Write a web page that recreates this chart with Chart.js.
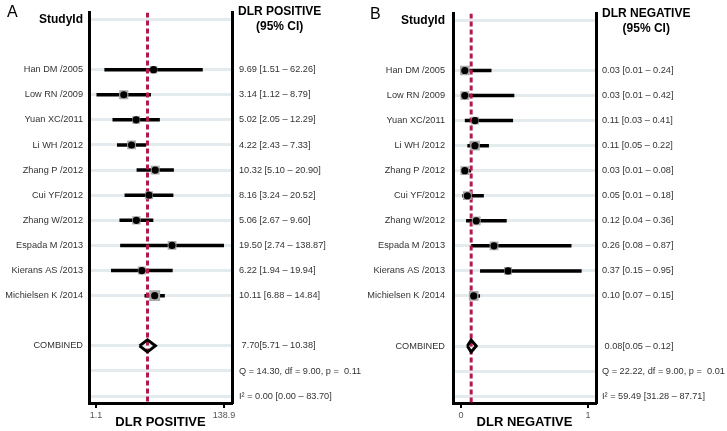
<!DOCTYPE html>
<html lang="en">
<head>
<meta charset="UTF-8">
<title>DLR forest plots</title>
<script src="https://cdn.jsdelivr.net/npm/chart.js"></script>
<style>
    body {
        margin: 0;
        background: #fff;
        width: 727px;
        height: 431px;
        position: relative;
        overflow: hidden;
    }
    canvas { position: absolute; top: 0; }
    #chartA { left: 0; }
    #chartB { left: 360px; }
</style>
</head>
<body>

<canvas id="chartB" width="367" height="431"></canvas>
<canvas id="chartA" width="375" height="431"></canvas>

<script>
    // studies (same order in both panels)
    const studies = ['Han DM /2005', 'Low RN /2009', 'Yuan XC/2011', 'Li WH /2012', 'Zhang P /2012',
        'Cui YF/2012', 'Zhang W/2012', 'Espada M /2013', 'Kierans AS /2013', 'Michielsen K /2014'];

    // DLR positive
    const posEst = [9.69, 3.14, 5.02, 4.22, 10.32, 8.16, 5.06, 19.50, 6.22, 10.11];
    const posLow = [1.51, 1.12, 2.05, 2.43, 5.10, 3.24, 2.67, 2.74, 1.94, 6.88];
    const posHigh = [62.26, 8.79, 12.29, 7.33, 20.90, 20.52, 9.60, 138.87, 19.94, 14.84];
    const posWeight = [6, 10, 7, 9, 9, 7, 8, 9, 7, 14];
    const posCombined = [7.70, 5.71, 10.38];
    const posQ = 'Q = 14.30, df = 9.00, p =  0.11';
    const posI2 = 'I² = 0.00 [0.00 – 83.70]';
    const posTicks = [1.1, 138.9];

    // DLR negative
    const negEst = [0.03, 0.03, 0.11, 0.11, 0.03, 0.05, 0.12, 0.26, 0.37, 0.10];
    const negLow = [0.01, 0.01, 0.03, 0.05, 0.01, 0.01, 0.04, 0.08, 0.15, 0.07];
    const negHigh = [0.24, 0.42, 0.41, 0.22, 0.08, 0.18, 0.36, 0.87, 0.95, 0.15];
    const negWeight = [11, 9, 7, 11, 9, 9, 9, 9, 7, 11];
    const negCombined = [0.08, 0.05, 0.12];
    const negQ = 'Q = 22.22, df = 9.00, p =  0.01';
    const negI2 = 'I² = 59.49 [31.28 – 87.71]';
    const negTicks = [0, 1];

    const FONT = "'Liberation Sans', Arial, sans-serif";
    Chart.defaults.font.family = FONT;

    const ROW_MIN = -0.275, ROW_MAX = 15.275;
    const FIRST_ROW = 2, COMBINED_ROW = 13;

    function fmt(v) { return v.toFixed(2); }

    // letter, right header and "(95% CI)"
    const headers = {
        id: 'headers',
        afterDraw(chart, args, opts) {
            const ctx = chart.ctx;
            const area = chart.chartArea;
            ctx.save();
            ctx.fillStyle = '#000';
            ctx.textBaseline = 'middle';
            ctx.textAlign = 'left';
            ctx.font = '16px ' + FONT;
            ctx.fillText(opts.letter, opts.letterX, opts.y + 1);
            ctx.font = 'bold 12px ' + FONT;
            const x = area.right + 6;
            ctx.fillText(opts.title, x, opts.y);
            const w = ctx.measureText(opts.title).width;
            ctx.textAlign = 'center';
            ctx.fillText('(95% CI)', x + w / 2, opts.y + 15);
            ctx.restore();
        }
    };

    function makePanel(id, p) {
        const rows = studies.map((s, i) => FIRST_ROW + i);
        const leftText = [], rightText = [];
        leftText[0] = 'StudyId';
        studies.forEach((s, i) => {
            leftText[rows[i]] = s;
            rightText[rows[i]] = `${fmt(p.est[i])} [${fmt(p.low[i])} – ${fmt(p.high[i])}]`;
        });
        const c = p.combined;
        leftText[COMBINED_ROW] = 'COMBINED';
        rightText[COMBINED_ROW] = ` ${fmt(c[0])}[${fmt(c[1])} – ${fmt(c[2])}]`;
        rightText[14] = p.q;
        rightText[15] = p.i2;
        const tickRows = [0, ...rows, COMBINED_ROW, 14, 15];

        const datasets = [];
        // black dots
        datasets.push({
            type: 'scatter',
            data: studies.map((s, i) => ({ x: p.est[i], y: rows[i] })),
            pointStyle: 'circle', pointRadius: 3.6, backgroundColor: '#000', borderWidth: 0,
            order: 1
        });
        // gray weight squares
        datasets.push({
            type: 'scatter',
            data: studies.map((s, i) => ({ x: p.est[i], y: rows[i] })),
            pointStyle: 'rect', pointRadius: p.weight.map(w => 3.5 + w * 0.3),
            backgroundColor: '#a9a9a9', borderWidth: 0,
            order: 2
        });
        // combined diamond
        const h = 0.24;
        datasets.push({
            type: 'line',
            data: [
                { x: c[1], y: COMBINED_ROW }, { x: c[0], y: COMBINED_ROW - h },
                { x: c[2], y: COMBINED_ROW }, { x: c[0], y: COMBINED_ROW + h },
                { x: c[1], y: COMBINED_ROW }
            ],
            borderColor: '#000', borderWidth: 3, borderJoinStyle: 'miter',
            pointRadius: 0, fill: false, tension: 0,
            order: 3
        });
        // red dashed line at pooled estimate
        datasets.push({
            type: 'line',
            data: [{ x: c[0], y: ROW_MIN }, { x: c[0], y: ROW_MAX }],
            borderColor: '#b3194b', borderWidth: 3, borderDash: [5, 3],
            pointRadius: 0, fill: false,
            order: 4
        });
        // confidence intervals
        studies.forEach((s, i) => {
            datasets.push({
                type: 'line',
                data: [{ x: p.low[i], y: rows[i] }, { x: p.high[i], y: rows[i] }],
                borderColor: '#000', borderWidth: 3.5, pointRadius: 0, fill: false,
                order: 5
            });
        });

        new Chart(document.getElementById(id), {
            type: 'scatter',
            data: { datasets: datasets },
            plugins: [headers],
            options: {
                responsive: false,
                animation: false,
                events: [],
                layout: { padding: { top: 7, left: 0, right: 0, bottom: 0 } },
                plugins: {
                    legend: { display: false },
                    tooltip: { enabled: false },
                    headers: { letter: p.letter, letterX: p.letterX, title: p.title, y: p.headY }
                },
                scales: {
                    x: {
                        type: p.xType,
                        min: p.xMin,
                        max: p.xMax,
                        afterBuildTicks: s => { s.ticks = p.ticks.map(v => ({ value: v })); },
                        afterFit: s => { s.height = 28; },
                        ticks: {
                            callback: v => String(v),
                            font: { size: 9 },
                            color: '#555',
                            padding: 2,
                            maxRotation: 0
                        },
                        grid: { display: true, drawOnChartArea: false, drawTicks: true, tickLength: 5, color: '#000', lineWidth: 2 },
                        border: { display: true, color: '#000', width: 3 },
                        title: {
                            display: true,
                            text: p.title,
                            font: { size: 13, weight: 'bold' },
                            color: '#000',
                            padding: { top: 0, bottom: 1 }
                        }
                    },
                    y: {
                        type: 'linear',
                        position: 'left',
                        reverse: true,
                        min: ROW_MIN,
                        max: ROW_MAX,
                        afterBuildTicks: s => { s.ticks = tickRows.map(v => ({ value: v })); },
                        afterFit: s => { s.width = p.left; },
                        ticks: {
                            autoSkip: false,
                            padding: p.leftPad,
                            callback: v => leftText[v] || '',
                            font: ctx => ctx.tick && ctx.tick.value === 0 ? { size: 12, weight: 'bold' } : { size: 9.2 },
                            color: ctx => ctx.tick && ctx.tick.value === 0 ? '#000' : '#333'
                        },
                        grid: { color: '#e3ebee', lineWidth: 3, drawTicks: false },
                        border: { display: true, color: '#000', width: 3 }
                    },
                    y2: {
                        type: 'linear',
                        axis: 'y',
                        position: 'right',
                        reverse: true,
                        min: ROW_MIN,
                        max: ROW_MAX,
                        afterBuildTicks: s => { s.ticks = tickRows.map(v => ({ value: v })); },
                        afterFit: s => { s.width = p.right; },
                        ticks: {
                            autoSkip: false,
                            padding: p.rightPad,
                            callback: v => rightText[v] || '',
                            font: { size: 9.2 },
                            color: '#333'
                        },
                        grid: { display: false, drawTicks: false },
                        border: { display: true, color: '#000', width: 3 }
                    }
                }
            }
        });
    }

    makePanel('chartA', {
        letter: 'A', letterX: 7, title: 'DLR POSITIVE', headY: 12,
        est: posEst, low: posLow, high: posHigh, weight: posWeight,
        combined: posCombined, q: posQ, i2: posI2, ticks: posTicks,
        xType: 'logarithmic', xMin: 0.844, xMax: 188,
        left: 89, right: 143, leftPad: 6, rightPad: 7
    });

    makePanel('chartB', {
        letter: 'B', letterX: 10, title: 'DLR NEGATIVE', headY: 14,
        est: negEst, low: negLow, high: negHigh, weight: negWeight,
        combined: negCombined, q: negQ, i2: negI2, ticks: negTicks,
        xType: 'linear', xMin: -0.063, xMax: 1.063,
        left: 93, right: 131, leftPad: 8, rightPad: 6
    });
</script>

</body>
</html>
